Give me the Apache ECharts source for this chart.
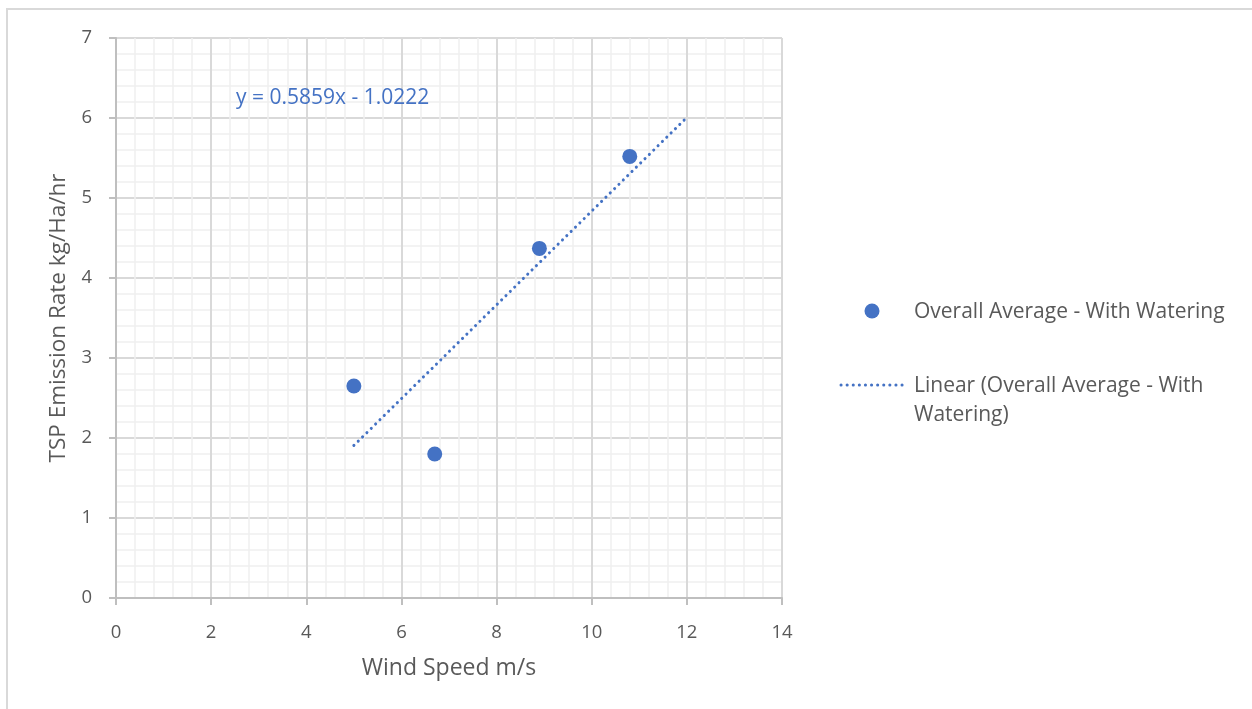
<!DOCTYPE html>
<html>
<head>
<meta charset="utf-8">
<script src="https://cdn.jsdelivr.net/npm/echarts@6/dist/echarts.min.js"></script>
<style>
html,body{margin:0;padding:0;background:#fff;}
#chart{width:1252px;height:709px;}
</style>
</head>
<body>
<div id="chart"></div>
<script>
// Data
const windSpeed = [5.0, 6.7, 8.9, 10.8];
const tspRate = [2.65, 1.80, 4.37, 5.52];
const trendX = [5, 12];
const trendY = [1.907, 6.008];
const seriesName = 'Overall Average - With Watering';
const trendName = 'Linear (Overall Average - With Watering)';
const equationText = 'y = 0.5859x - 1.0222';
const xAxisTitle = 'Wind Speed m/s';
const yAxisTitle = 'TSP Emission Rate kg/Ha/hr';

const blue = '#4472C4';
const font = '"Open Sans"';
const chart = echarts.init(document.getElementById('chart'), null, {renderer: 'canvas'});

const scatterData = windSpeed.map((x, i) => [x, tspRate[i]]);
const trendData = trendX.map((x, i) => [x, trendY[i]]);

chart.setOption({
  animation: false,
  textStyle: {fontFamily: font},
  grid: {left: 116, right: 470, top: 38, bottom: 111, containLabel: false},
  xAxis: {
    type: 'value', min: 0, max: 14, interval: 2,
    name: xAxisTitle, nameLocation: 'middle', nameGap: 59,
    nameTextStyle: {color: '#595959', fontSize: 23, fontFamily: font},
    axisLine: {show: true, lineStyle: {color: '#bfbfbf', width: 2}},
    axisTick: {show: true, length: 7, lineStyle: {color: '#bfbfbf', width: 2}},
    axisLabel: {color: '#595959', fontSize: 18.5, margin: 25, fontFamily: font},
    splitLine: {show: true, lineStyle: {color: '#d9d9d9', width: 2}},
    minorTick: {show: false, splitNumber: 5},
    minorSplitLine: {show: true, lineStyle: {color: '#f0f0f0', width: 1.5}}
  },
  yAxis: {
    type: 'value', min: 0, max: 7, interval: 1,
    name: yAxisTitle, nameLocation: 'middle', nameGap: 35,
    nameTextStyle: {color: '#595959', fontSize: 22.5, fontFamily: font},
    axisLine: {show: true, lineStyle: {color: '#bfbfbf', width: 2}},
    axisTick: {show: true, length: 7, lineStyle: {color: '#bfbfbf', width: 2}},
    axisLabel: {color: '#595959', fontSize: 18.5, margin: 24, fontFamily: font},
    splitLine: {show: true, lineStyle: {color: '#d9d9d9', width: 2}},
    minorTick: {show: false, splitNumber: 5},
    minorSplitLine: {show: true, lineStyle: {color: '#f0f0f0', width: 1.5}}
  },
  series: [
    {
      name: trendName, type: 'line', data: trendData,
      showSymbol: false, symbol: 'none',
      lineStyle: {color: blue, width: 3, type: [0.1, 6], cap: 'round'},
      z: 2
    },
    {
      name: seriesName, type: 'scatter', data: scatterData,
      symbol: 'circle', symbolSize: 15,
      itemStyle: {color: blue, opacity: 1},
      z: 3
    }
  ],
  graphic: [
    {type: 'rect', shape: {x: 7, y: 9, width: 1300, height: 800}, style: {fill: 'none', stroke: '#d9d9d9', lineWidth: 2}, silent: true, z: -10},
    {type: 'text', left: 236, top: 88, z: 100, style: {text: equationText, fill: blue, font: '21px ' + font}},
    {type: 'circle', shape: {cx: 872, cy: 311, r: 7.5}, z: 100, style: {fill: blue}},
    {type: 'text', left: 914, top: 302, z: 100, style: {text: seriesName, fill: '#595959', font: '21px ' + font}},
    {type: 'line', shape: {x1: 841, y1: 385, x2: 908, y2: 385}, z: 100, style: {stroke: blue, lineWidth: 3, lineDash: [0.1, 6], lineCap: 'round'}},
    {type: 'text', left: 914, top: 372, z: 100, style: {text: 'Linear (Overall Average - With\nWatering)', fill: '#595959', font: '21px ' + font, lineHeight: 29}}
  ]
});
</script>
</body>
</html>
